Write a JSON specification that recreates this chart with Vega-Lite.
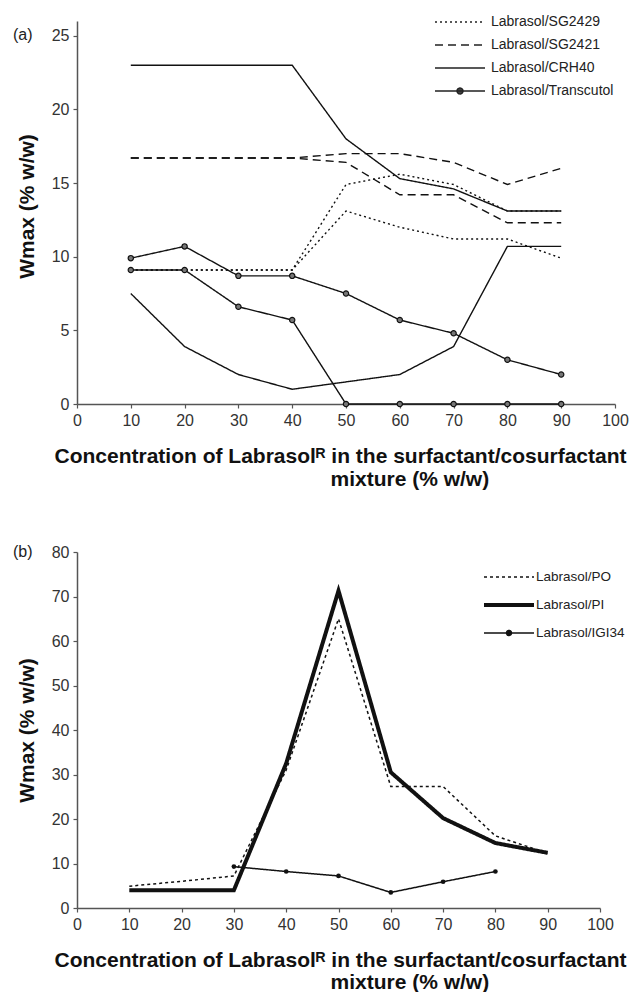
{
  "$schema": "https://vega.github.io/schema/vega-lite/v6.json",
  "padding": {"left": 13, "top": 11, "right": 5, "bottom": 0},
  "spacing": 55,
  "resolve": {"scale": {"strokeDash": "independent", "strokeWidth": "independent"}, "legend": {"strokeDash": "independent", "strokeWidth": "independent"}},
  "config": {
    "view": {"stroke": null},
    "font": "Liberation Sans",
    "axis": {"domainColor": "#555", "domainWidth": 1.5, "tickColor": "#555", "tickWidth": 1.2, "tickSize": 4, "labelFontSize": 16, "labelColor": "#333", "labelPadding": 4, "titleFontSize": 21, "titleFontWeight": "bold", "titleColor": "#111", "grid": false, "labelFlush": false},
    "legend": {"labelFontSize": 14, "labelColor": "#222", "symbolSize": 400, "labelOffset": 20, "padding": 0},
    "title": {"fontSize": 16, "fontWeight": "normal", "color": "#222", "anchor": "start", "frame": "group", "orient": "top", "dx": -64, "baseline": "middle"}
  },
  "vconcat": [
    {
      "width": 538,
      "height": 383,
      "title": {"text": "(a)", "offset": -32},
      "resolve": {"axis": {"x": "independent"}},
      "data": {"values": [
        {"c": 10, "w": 9.1, "series": "Labrasol/SG2429", "branch": "upper"},
        {"c": 20, "w": 9.1, "series": "Labrasol/SG2429", "branch": "upper"},
        {"c": 30, "w": 9.1, "series": "Labrasol/SG2429", "branch": "upper"},
        {"c": 40, "w": 9.1, "series": "Labrasol/SG2429", "branch": "upper"},
        {"c": 50, "w": 14.9, "series": "Labrasol/SG2429", "branch": "upper"},
        {"c": 60, "w": 15.6, "series": "Labrasol/SG2429", "branch": "upper"},
        {"c": 70, "w": 14.9, "series": "Labrasol/SG2429", "branch": "upper"},
        {"c": 80, "w": 13.1, "series": "Labrasol/SG2429", "branch": "upper"},
        {"c": 90, "w": 13.1, "series": "Labrasol/SG2429", "branch": "upper"},
        {"c": 10, "w": 9.1, "series": "Labrasol/SG2429", "branch": "lower"},
        {"c": 20, "w": 9.1, "series": "Labrasol/SG2429", "branch": "lower"},
        {"c": 30, "w": 9.1, "series": "Labrasol/SG2429", "branch": "lower"},
        {"c": 40, "w": 9.1, "series": "Labrasol/SG2429", "branch": "lower"},
        {"c": 50, "w": 13.1, "series": "Labrasol/SG2429", "branch": "lower"},
        {"c": 60, "w": 12.0, "series": "Labrasol/SG2429", "branch": "lower"},
        {"c": 70, "w": 11.2, "series": "Labrasol/SG2429", "branch": "lower"},
        {"c": 80, "w": 11.2, "series": "Labrasol/SG2429", "branch": "lower"},
        {"c": 90, "w": 9.9, "series": "Labrasol/SG2429", "branch": "lower"},
        {"c": 10, "w": 16.7, "series": "Labrasol/SG2421", "branch": "upper"},
        {"c": 20, "w": 16.7, "series": "Labrasol/SG2421", "branch": "upper"},
        {"c": 30, "w": 16.7, "series": "Labrasol/SG2421", "branch": "upper"},
        {"c": 40, "w": 16.7, "series": "Labrasol/SG2421", "branch": "upper"},
        {"c": 50, "w": 17.0, "series": "Labrasol/SG2421", "branch": "upper"},
        {"c": 60, "w": 17.0, "series": "Labrasol/SG2421", "branch": "upper"},
        {"c": 70, "w": 16.4, "series": "Labrasol/SG2421", "branch": "upper"},
        {"c": 80, "w": 14.9, "series": "Labrasol/SG2421", "branch": "upper"},
        {"c": 90, "w": 16.0, "series": "Labrasol/SG2421", "branch": "upper"},
        {"c": 10, "w": 16.7, "series": "Labrasol/SG2421", "branch": "lower"},
        {"c": 20, "w": 16.7, "series": "Labrasol/SG2421", "branch": "lower"},
        {"c": 30, "w": 16.7, "series": "Labrasol/SG2421", "branch": "lower"},
        {"c": 40, "w": 16.7, "series": "Labrasol/SG2421", "branch": "lower"},
        {"c": 50, "w": 16.4, "series": "Labrasol/SG2421", "branch": "lower"},
        {"c": 60, "w": 14.2, "series": "Labrasol/SG2421", "branch": "lower"},
        {"c": 70, "w": 14.2, "series": "Labrasol/SG2421", "branch": "lower"},
        {"c": 80, "w": 12.3, "series": "Labrasol/SG2421", "branch": "lower"},
        {"c": 90, "w": 12.3, "series": "Labrasol/SG2421", "branch": "lower"},
        {"c": 10, "w": 23.0, "series": "Labrasol/CRH40", "branch": "upper"},
        {"c": 20, "w": 23.0, "series": "Labrasol/CRH40", "branch": "upper"},
        {"c": 30, "w": 23.0, "series": "Labrasol/CRH40", "branch": "upper"},
        {"c": 40, "w": 23.0, "series": "Labrasol/CRH40", "branch": "upper"},
        {"c": 50, "w": 18.0, "series": "Labrasol/CRH40", "branch": "upper"},
        {"c": 60, "w": 15.3, "series": "Labrasol/CRH40", "branch": "upper"},
        {"c": 70, "w": 14.6, "series": "Labrasol/CRH40", "branch": "upper"},
        {"c": 80, "w": 13.1, "series": "Labrasol/CRH40", "branch": "upper"},
        {"c": 90, "w": 13.1, "series": "Labrasol/CRH40", "branch": "upper"},
        {"c": 10, "w": 7.5, "series": "Labrasol/CRH40", "branch": "lower"},
        {"c": 20, "w": 3.9, "series": "Labrasol/CRH40", "branch": "lower"},
        {"c": 30, "w": 2.0, "series": "Labrasol/CRH40", "branch": "lower"},
        {"c": 40, "w": 1.0, "series": "Labrasol/CRH40", "branch": "lower"},
        {"c": 50, "w": 1.5, "series": "Labrasol/CRH40", "branch": "lower"},
        {"c": 60, "w": 2.0, "series": "Labrasol/CRH40", "branch": "lower"},
        {"c": 70, "w": 3.9, "series": "Labrasol/CRH40", "branch": "lower"},
        {"c": 80, "w": 10.7, "series": "Labrasol/CRH40", "branch": "lower"},
        {"c": 90, "w": 10.7, "series": "Labrasol/CRH40", "branch": "lower"},
        {"c": 10, "w": 9.9, "series": "Labrasol/Transcutol", "branch": "upper"},
        {"c": 20, "w": 10.7, "series": "Labrasol/Transcutol", "branch": "upper"},
        {"c": 30, "w": 8.7, "series": "Labrasol/Transcutol", "branch": "upper"},
        {"c": 40, "w": 8.7, "series": "Labrasol/Transcutol", "branch": "upper"},
        {"c": 50, "w": 7.5, "series": "Labrasol/Transcutol", "branch": "upper"},
        {"c": 60, "w": 5.7, "series": "Labrasol/Transcutol", "branch": "upper"},
        {"c": 70, "w": 4.8, "series": "Labrasol/Transcutol", "branch": "upper"},
        {"c": 80, "w": 3.0, "series": "Labrasol/Transcutol", "branch": "upper"},
        {"c": 90, "w": 2.0, "series": "Labrasol/Transcutol", "branch": "upper"},
        {"c": 10, "w": 9.1, "series": "Labrasol/Transcutol", "branch": "lower"},
        {"c": 20, "w": 9.1, "series": "Labrasol/Transcutol", "branch": "lower"},
        {"c": 30, "w": 6.6, "series": "Labrasol/Transcutol", "branch": "lower"},
        {"c": 40, "w": 5.7, "series": "Labrasol/Transcutol", "branch": "lower"},
        {"c": 50, "w": 0, "series": "Labrasol/Transcutol", "branch": "lower"},
        {"c": 60, "w": 0, "series": "Labrasol/Transcutol", "branch": "lower"},
        {"c": 70, "w": 0, "series": "Labrasol/Transcutol", "branch": "lower"},
        {"c": 80, "w": 0, "series": "Labrasol/Transcutol", "branch": "lower"},
        {"c": 90, "w": 0, "series": "Labrasol/Transcutol", "branch": "lower"}
      ]},
      "layer": [
        {
          "mark": {"type": "line", "strokeWidth": 1.4, "color": "#111"},
          "encoding": {
            "x": {"field": "c", "type": "quantitative", "scale": {"domain": [0, 100]},
              "axis": {"values": [0, 10, 20, 30, 40, 50, 60, 70, 80, 90, 100],
                "title": "Concentration of Labrasolᴿ in the surfactant/cosurfactant",
                "titleX": 263, "titleY": 58, "titleBaseline": "alphabetic"}},
            "y": {"field": "w", "type": "quantitative", "scale": {"domain": [0, 25]},
              "axis": {"values": [0, 5, 10, 15, 20, 25], "title": "Wmax (% w/w)", "titleX": -50, "titleY": 185, "titleBaseline": "middle"}},
            "strokeDash": {"field": "series", "type": "nominal",
              "scale": {"domain": ["Labrasol/SG2429", "Labrasol/SG2421", "Labrasol/CRH40", "Labrasol/Transcutol"], "range": [[2, 3], [8, 5], [1, 0], [1, 0]]},
              "legend": {"title": null, "orient": "none", "legendX": 372, "legendY": -10, "rowPadding": 5,
                "symbolType": {"expr": "datum.value === 'Labrasol/Transcutol' ? 'M-2.5,0H2.5M-0.3,0A0.3,0.3 0 1,0 0.3,0A0.3,0.3 0 1,0 -0.3,0' : 'M-2.5,0H2.5'"},
                "symbolFillColor": {"expr": "datum.value === 'Labrasol/Transcutol' ? '#444' : 'transparent'"},
                "symbolStrokeColor": "#222",
                "symbolStrokeWidth": 1.4}},
            "detail": {"field": "branch"}
          }
        },
        {
          "transform": [{"filter": "datum.series === 'Labrasol/Transcutol'"}],
          "mark": {"type": "point", "filled": true, "size": 28, "fill": "#777", "stroke": "#111", "strokeWidth": 1.2, "opacity": 1},
          "encoding": {
            "x": {"field": "c", "type": "quantitative",
              "axis": {"orient": "bottom", "domain": false, "ticks": false, "labels": false, "title": "mixture (% w/w)", "titleAlign": "left", "titleX": 253, "titleY": 81, "titleBaseline": "alphabetic"}},
            "y": {"field": "w", "type": "quantitative"}
          }
        }
      ]
    },
    {
      "width": 523,
      "height": 356,
      "title": {"text": "(b)", "offset": -16},
      "resolve": {"axis": {"x": "independent"}},
      "data": {"values": [
        {"c": 10, "w": 4.9, "series": "Labrasol/PO"},
        {"c": 20, "w": 6.0, "series": "Labrasol/PO"},
        {"c": 30, "w": 7.2, "series": "Labrasol/PO"},
        {"c": 40, "w": 31, "series": "Labrasol/PO"},
        {"c": 50, "w": 65, "series": "Labrasol/PO"},
        {"c": 60, "w": 27.3, "series": "Labrasol/PO"},
        {"c": 70, "w": 27.3, "series": "Labrasol/PO"},
        {"c": 80, "w": 16.2, "series": "Labrasol/PO"},
        {"c": 90, "w": 12.3, "series": "Labrasol/PO"},
        {"c": 10, "w": 4.0, "series": "Labrasol/PI"},
        {"c": 20, "w": 4.0, "series": "Labrasol/PI"},
        {"c": 30, "w": 4.0, "series": "Labrasol/PI"},
        {"c": 40, "w": 32.5, "series": "Labrasol/PI"},
        {"c": 50, "w": 71.3, "series": "Labrasol/PI"},
        {"c": 60, "w": 30.5, "series": "Labrasol/PI"},
        {"c": 70, "w": 20.2, "series": "Labrasol/PI"},
        {"c": 80, "w": 14.6, "series": "Labrasol/PI"},
        {"c": 90, "w": 12.4, "series": "Labrasol/PI"},
        {"c": 30, "w": 9.3, "series": "Labrasol/IGI34"},
        {"c": 40, "w": 8.2, "series": "Labrasol/IGI34"},
        {"c": 50, "w": 7.2, "series": "Labrasol/IGI34"},
        {"c": 60, "w": 3.5, "series": "Labrasol/IGI34"},
        {"c": 70, "w": 5.9, "series": "Labrasol/IGI34"},
        {"c": 80, "w": 8.2, "series": "Labrasol/IGI34"}
      ]},
      "layer": [
        {
          "mark": {"type": "line", "color": "#111"},
          "encoding": {
            "x": {"field": "c", "type": "quantitative", "scale": {"domain": [0, 100]},
              "axis": {"values": [0, 10, 20, 30, 40, 50, 60, 70, 80, 90, 100],
                "title": "Concentration of Labrasolᴿ in the surfactant/cosurfactant",
                "titleX": 263, "titleY": 58, "titleBaseline": "alphabetic"}},
            "y": {"field": "w", "type": "quantitative", "scale": {"domain": [0, 80]},
              "axis": {"values": [0, 10, 20, 30, 40, 50, 60, 70, 80], "title": "Wmax (% w/w)", "titleX": -50, "titleY": 178, "titleBaseline": "middle"}},
            "strokeDash": {"field": "series", "type": "nominal",
              "scale": {"domain": ["Labrasol/PO", "Labrasol/PI", "Labrasol/IGI34"], "range": [[3, 3], [1, 0], [1, 0]]},
              "legend": {"title": null, "orient": "none", "legendX": 420, "legendY": 14, "rowPadding": 9, "labelFontSize": 13.5, "labelOffset": 15,
                "symbolType": {"expr": "datum.value === 'Labrasol/IGI34' ? 'M-2.5,0H2.5M-0.25,0A0.25,0.25 0 1,0 0.25,0A0.25,0.25 0 1,0 -0.25,0' : 'M-2.5,0H2.5'"},
                "symbolFillColor": {"expr": "datum.value === 'Labrasol/IGI34' ? '#111' : 'transparent'"},
                "symbolStrokeColor": "#111",
                "symbolStrokeWidth": {"expr": "datum.value === 'Labrasol/PI' ? 4 : 1.5"}}},
            "strokeWidth": {"field": "series", "type": "nominal",
              "scale": {"type": "ordinal", "domain": ["Labrasol/PO", "Labrasol/PI", "Labrasol/IGI34"], "range": [1.5, 4, 1.5]},
              "legend": null}
          }
        },
        {
          "transform": [{"filter": "datum.series === 'Labrasol/IGI34'"}],
          "mark": {"type": "point", "filled": true, "size": 22, "color": "#111", "opacity": 1},
          "encoding": {
            "x": {"field": "c", "type": "quantitative",
              "axis": {"orient": "bottom", "domain": false, "ticks": false, "labels": false, "title": "mixture (% w/w)", "titleAlign": "left", "titleX": 253, "titleY": 80, "titleBaseline": "alphabetic"}},
            "y": {"field": "w", "type": "quantitative"}
          }
        }
      ]
    }
  ]
}
